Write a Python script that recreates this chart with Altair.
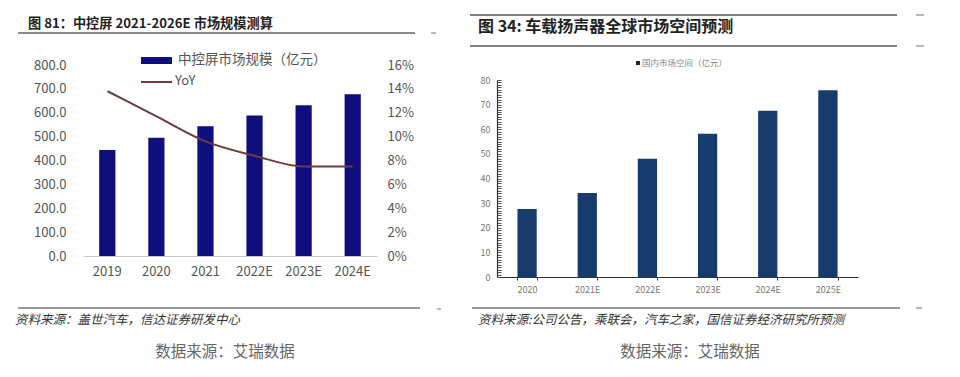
import altair as alt
import pandas as pd

# ---------------- data ----------------
left_years = ["2019", "2020", "2021", "2022E", "2023E", "2024E"]
left_size = [444, 495, 543, 588, 631, 677]
left_yoy = [0.138, 0.117, 0.096, 0.084, 0.075, 0.075]
left_size_ticks = [0, 100, 200, 300, 400, 500, 600, 700, 800]
left_yoy_ticks = [0, 0.02, 0.04, 0.06, 0.08, 0.10, 0.12, 0.14, 0.16]

right_years = ["2020", "2021E", "2022E", "2023E", "2024E", "2025E"]
right_size = [27.6, 34.1, 48.0, 58.2, 67.5, 75.8]
right_minor_ticks = list(range(0, 81))

left_title = "图 81：中控屏 2021-2026E 市场规模测算"
left_legend_bar = "中控屏市场规模（亿元）"
left_legend_line = "YoY"
left_source = "资料来源：盖世汽车，信达证券研发中心"
right_title = "图 34:  车载扬声器全球市场空间预测"
right_legend = "国内市场空间（亿元）"
right_source = "资料来源:公司公告，乘联会，汽车之家，国信证券经济研究所预测"
caption = "数据来源：艾瑞数据"

W, H = 960, 377
FONT = "Noto Sans CJK SC"
NAVY = "#0e0e7c"
MAROON = "#6e3a40"
RBLUE = "#173b6c"

df_left = pd.DataFrame({"year": left_years, "size": left_size, "yoy": left_yoy})
df_right = pd.DataFrame({"year": right_years, "size": right_size})

# ---------------- left chart ----------------
xl = alt.Scale(domain=left_years, range=[83, 377], paddingInner=0.67, paddingOuter=0.33)

left_bars = alt.Chart(df_left).mark_bar(color=NAVY).encode(
    x=alt.X("year:N", scale=xl, sort=None,
            axis=alt.Axis(orient="bottom", offset=-(H - 256), title=None, labelAngle=0,
                          domain=True, domainColor="#c8c8c8", domainWidth=1.2,
                          ticks=False, tickSize=0, labelPadding=9,
                          labelFont=FONT, labelFontSize=13, labelColor="#555")),
    y=alt.Y("size:Q", scale=alt.Scale(domain=[0, 800], range=[256, 65], nice=False),
            axis=alt.Axis(orient="left", offset=-70, title=None, values=left_size_ticks,
                          format=".1f", domain=False, ticks=False, tickSize=0, grid=False,
                          labelPadding=4, labelFont=FONT, labelFontSize=13, labelColor="#555")),
)

left_line = alt.Chart(df_left).mark_line(color=MAROON, strokeWidth=2, interpolate="monotone").encode(
    x=alt.X("year:N", scale=xl, sort=None, axis=None),
    y=alt.Y("yoy:Q", scale=alt.Scale(domain=[0, 0.16], range=[256, 65], nice=False),
            axis=alt.Axis(orient="right", offset=-(W - 383), title=None, values=left_yoy_ticks,
                          format=".0%", domain=False, ticks=False, tickSize=0, grid=False,
                          labelPadding=4, labelFont=FONT, labelFontSize=13, labelColor="#555")),
)

# ---------------- right chart ----------------
xr = alt.Scale(domain=right_years, range=[497, 858], paddingInner=0.68, paddingOuter=0.34)
yr_dom = [0, 80]

right_bars = alt.Chart(df_right).mark_bar(color=RBLUE).encode(
    x=alt.X("year:N", scale=xr, sort=None,
            axis=alt.Axis(orient="bottom", offset=-(H - 277), title=None, labelAngle=0,
                          domain=True, domainColor="#333", domainWidth=1.2,
                          ticks=True, tickBand="extent", tickSize=3, tickColor="#333",
                          labelPadding=5, labelFont=FONT, labelFontSize=9, labelColor="#777")),
    y=alt.Y("size:Q", scale=alt.Scale(domain=yr_dom, range=[277, 80], nice=False),
            axis=alt.Axis(orient="left", offset=-501, title=None, values=right_minor_ticks,
                          labelExpr="datum.value % 10 === 0 ? datum.label : ''",
                          labelOverlap=False,
                          domain=False, ticks=True, tickSize=4, tickColor="#444", tickWidth=0.9,
                          grid=False, labelPadding=7, labelFont=FONT, labelFontSize=9,
                          labelColor="#777")),
)

right_domain = alt.Chart(df_right).mark_bar(opacity=0).encode(
    x=alt.X("year:N", scale=xr, sort=None, axis=None),
    y=alt.Y("size:Q", scale=alt.Scale(domain=yr_dom, range=[277, 80], nice=False),
            axis=alt.Axis(orient="left", offset=-497, title=None, labels=False, ticks=False,
                          tickSize=0, domain=True, domainColor="#333", domainWidth=1.2,
                          grid=False)),
)


# ---------------- decorations ----------------
def text_layer(txt, x, y, size, color, weight="normal", align="left", style="normal"):
    return alt.Chart(pd.DataFrame({"t": [txt]})).mark_text(
        align=align, baseline="middle", fontSize=size, color=color,
        fontWeight=weight, fontStyle=style, font=FONT
    ).encode(x=alt.value(x), y=alt.value(y), text="t:N")


def hrule(x1, x2, y, color="#555", width=1.5):
    return alt.Chart(pd.DataFrame({"a": [0]})).mark_rule(color=color, strokeWidth=width).encode(
        x=alt.value(x1), x2=alt.value(x2), y=alt.value(y))


def rect(x1, x2, y1, y2, color):
    return alt.Chart(pd.DataFrame({"a": [0]})).mark_rect(color=color).encode(
        x=alt.value(x1), x2=alt.value(x2), y=alt.value(y1), y2=alt.value(y2))


decor = [
    # left header
    text_layer(left_title, 28, 24, 13.2, "#222", weight="bold"),
    hrule(18, 415, 33, "#666", 1.6),
    hrule(431, 436, 33, "#888", 1.2),
    # left legend
    rect(141, 172, 57, 64, NAVY),
    text_layer(left_legend_bar, 178, 60, 13.5, "#555"),
    hrule(141, 172, 82, MAROON, 2),
    text_layer(left_legend_line, 175, 81, 13, "#555"),
    # left footer
    hrule(18, 420, 308, "#777", 1.6),
    hrule(437, 441, 309, "#888", 1.2),
    text_layer(left_source, 15, 320, 12.5, "#333", style="italic"),
    text_layer(caption, 225, 352, 15.5, "#666", align="center"),
    # right header
    hrule(470, 897, 15, "#555", 1.6),
    hrule(916, 924, 15, "#888", 1.2),
    text_layer(right_title, 478, 27, 16, "#222", weight="bold"),
    hrule(470, 897, 46, "#555", 1.6),
    hrule(916, 924, 46, "#888", 1.2),
    # right legend
    rect(636, 640, 61, 65, "#222"),
    text_layer(right_legend, 642, 63, 8.5, "#888"),
    # right footer
    hrule(472, 900, 308, "#777", 1.6),
    hrule(916, 922, 308, "#888", 1.2),
    text_layer(right_source, 478, 320, 12.5, "#333", style="italic"),
    text_layer(caption, 690, 352, 15.5, "#666", align="center"),
]

chart = alt.layer(left_bars, left_line, right_bars, right_domain, *decor).resolve_scale(
    x="independent", y="independent"
).properties(
    width=W, height=H, padding=0, autosize=alt.AutoSizeParams(type="none"),
    background="white"
).configure_view(stroke=None)

chart.save("out.html", embed_options={"renderer": "svg", "actions": False})
